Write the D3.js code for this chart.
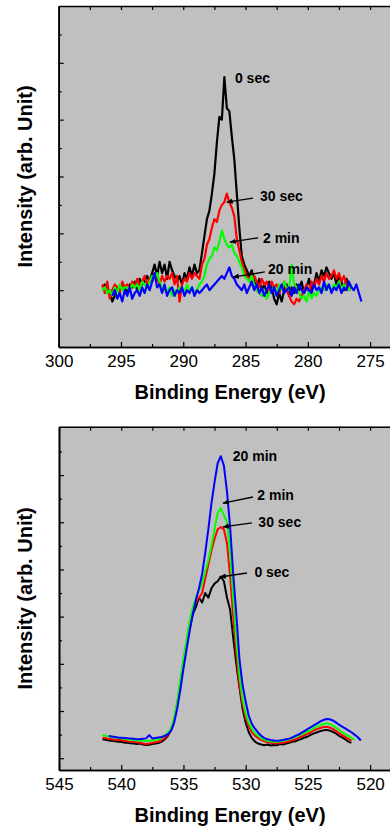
<!DOCTYPE html>
<html>
<head>
<meta charset="utf-8">
<script src="https://cdn.jsdelivr.net/npm/d3@7"></script>
<style>
  body { margin: 0; background: #fff; }
  svg { display: block; font-family: "Liberation Sans", Arial, sans-serif; }
</style>
</head>
<body>
<div id="chart"></div>
<script>
// ---- C 1s panel (top), 0.2 eV sampling ----
const c1sStart = 296.5, c1sBlueStart = 295.7, c1sStep = 0.2;
const c1s0sec = [2.1, 2.2, 1.9, 2.0, 1.6, 1.8, 2.1, 2.0, 2.2, 2.1,
  1.9, 2.2, 2.1, 2.3, 2.0, 2.4, 2.2, 2.3, 2.5, 2.3,
  2.6, 2.9, 2.5, 3.0, 2.6, 2.9, 2.4, 3.0, 2.7, 2.5,
  2.3, 2.5, 2.2, 2.6, 2.4, 2.8, 2.5, 2.9, 2.6,
  2.7, 3.3, 3.9, 4.5, 4.8, 5.4, 6.1, 7.2, 8.1, 8.0, 9.5, 8.4, 8.3, 7.4, 6.6, 5.4, 4.2, 3.2, 2.9, 2.7,
  2.5, 2.7, 2.3, 2.1, 2.4, 2.0, 2.2, 1.9, 2.3, 2.1,
  1.7, 1.5, 1.9, 1.6, 2.0, 2.2, 1.8, 2.1, 1.9, 2.2,
  2.0, 2.3, 1.9, 2.1, 2.4, 2.0, 2.2, 2.6, 2.3, 2.7,
  2.5, 2.8, 2.6, 2.4, 2.6, 2.2, 2.5, 2.3, 2.0, 2.4, 2.2, 2.1];
const c1s30sec = [2.2, 1.9, 2.3, 1.7, 2.0, 2.2, 2.1, 1.9, 2.3, 2.1,
  2.2, 2.0, 2.3, 2.1, 2.4, 2.2, 2.3, 2.5, 2.2, 2.4,
  2.3, 2.6, 2.4, 2.2, 2.5, 2.3, 2.5, 2.4, 2.6, 2.2,
  2.5, 1.6, 2.2, 2.4, 2.3, 2.6, 2.4, 2.6, 2.5,
  2.4, 2.9, 3.1, 3.6, 3.8, 4.2, 4.5, 4.4, 4.8, 5.0, 5.1, 5.4, 5.1, 4.9, 4.6, 3.8, 3.4, 3.0, 2.7, 2.5,
  2.4, 2.2, 2.5, 2.3, 2.1, 2.4, 2.2, 2.3, 2.0, 2.3,
  2.1, 2.2, 1.9, 2.1, 2.3, 2.0, 1.8, 1.6, 1.5, 1.7,
  1.6, 1.8, 2.0, 2.2, 1.9, 2.3, 2.1, 2.4, 2.2, 2.5,
  2.3, 2.6, 2.4, 2.5, 2.7, 2.4, 2.6, 2.3, 2.5, 2.2, 2.0, 2.1];
const c1s2min = [2.0, 2.1, 1.9, 2.0, 1.8, 2.1, 1.9, 2.2, 2.0, 2.1,
  2.1, 2.0, 2.2, 2.1, 2.2, 2.0, 2.3, 2.2, 2.1, 2.3,
  2.5, 2.4, 2.6, 2.3, 2.1, 2.0, 1.9, 2.1, 1.8, 2.0,
  1.9, 2.1, 2.0, 1.9, 2.2, 2.0, 2.1, 1.9, 2.0,
  2.2, 2.3, 2.5, 2.9, 3.1, 3.2, 3.5, 3.4, 3.7, 4.1, 3.8, 3.6, 3.5, 3.6, 3.3, 3.2, 3.0, 2.8, 2.5, 2.4,
  2.3, 2.5, 2.2, 2.0, 1.9, 1.8, 2.0, 1.7, 1.9, 2.0,
  2.1, 1.9, 2.2, 2.0, 2.3, 2.1, 2.0, 2.9, 2.2, 2.1,
  1.9, 1.7, 1.8, 1.6, 2.0, 1.7, 1.9, 1.8, 2.0, 2.1,
  2.0, 2.2, 2.1, 2.0, 2.2, 2.1, 2.3, 2.0, 2.2, 2.1, 2.0, 2.2];
const c1s20min = [1.8, 2.0, 1.7, 1.9, 1.6, 2.0, 1.8, 2.1, 1.7, 1.9,
  2.0, 1.8, 2.1, 1.9, 2.2, 2.0, 2.3, 2.6, 2.1, 2.2,
  1.9, 2.2, 1.8, 2.0, 2.1, 1.8, 2.0, 1.9, 2.1, 1.8,
  2.0, 1.9, 2.1, 1.8, 2.0, 1.9, 2.0, 2.1, 2.2, 2.0,
  2.1, 2.2, 2.3, 2.4, 2.5, 2.4, 2.6, 2.8, 2.5, 2.4,
  2.2, 2.1, 2.0, 2.2, 1.9, 2.1, 2.3, 2.0, 2.2, 1.9,
  2.1, 1.8, 2.0, 2.2, 1.9, 2.1, 1.8, 2.0, 2.2, 1.9,
  2.0, 2.1, 1.8, 2.1, 1.9, 2.2, 2.0, 1.9, 2.1, 2.0,
  1.9, 2.2, 2.0, 2.1, 1.9, 2.3, 2.0, 2.2, 1.9, 2.1,
  2.0, 2.2, 1.9, 2.1, 2.0, 2.3, 2.1, 2.0, 2.2, 1.9, 1.6];

// ---- O 1s panel (bottom), 0.25 eV sampling ----
const o1sStart = 541.5, o1sBlueStart = 541.0, o1sStep = 0.25;
const o1s0sec = [1.3, 1.28, 1.25, 1.24, 1.22, 1.2, 1.2, 1.16, 1.15, 1.13, 1.12, 1.1, 1.12, 1.08, 1.06, 1.07, 1.1, 1.12, 1.14, 1.2, 1.3, 1.45,
  1.7, 2.1, 2.8, 3.6, 4.5, 5.3, 6.0, 6.6, 6.9,
  7.3, 7.1, 7.5, 7.3, 7.7, 7.9, 8.0, 8.2, 8.0, 7.3,
  6.8, 5.6, 4.5, 3.5, 2.6, 2.0, 1.6, 1.35, 1.2, 1.12, 1.08,
  1.05, 1.08, 1.04, 1.06, 1.05, 1.1, 1.08, 1.12, 1.15, 1.2, 1.22, 1.28, 1.32, 1.38, 1.42,
  1.5, 1.55, 1.6, 1.65, 1.68, 1.7, 1.67, 1.62, 1.55, 1.45, 1.38, 1.3, 1.2, 1.15];
const o1s30sec = [1.37, 1.35, 1.32, 1.3, 1.28, 1.27, 1.27, 1.24, 1.22, 1.2, 1.2, 1.18, 1.16, 1.12, 1.1, 1.12, 1.15, 1.18, 1.2, 1.26, 1.36, 1.5,
  1.7, 2.1, 2.8, 3.7, 4.6, 5.4, 6.2, 6.8, 7.1,
  7.3, 7.5, 8.1, 8.7, 9.3, 9.8, 10.2, 10.3, 10.2, 9.6,
  8.2, 6.5, 4.9, 3.6, 2.8, 2.2, 1.85, 1.6, 1.45, 1.35, 1.28,
  1.22, 1.18, 1.15, 1.13, 1.12, 1.14, 1.15, 1.18, 1.22, 1.26, 1.3, 1.36, 1.42, 1.48, 1.54,
  1.6, 1.68, 1.74, 1.78, 1.82, 1.83, 1.8, 1.74, 1.66, 1.56, 1.48, 1.4, 1.32, 1.24];
const o1s2min = [1.48, 1.45, 1.42, 1.4, 1.38, 1.36, 1.34, 1.32, 1.3, 1.28, 1.27, 1.25, 1.26, 1.24, 1.22, 1.24, 1.26, 1.28, 1.3, 1.36, 1.45, 1.58,
  1.75, 2.2, 2.9, 3.8, 4.7, 5.5, 6.3, 6.9, 7.3,
  7.6, 7.9, 8.4, 8.9, 9.5, 10.2, 10.9, 11.1, 10.8, 10.5,
  9.2, 7.3, 5.5, 4.0, 3.0, 2.4, 2.0, 1.75, 1.55, 1.45, 1.35,
  1.28, 1.24, 1.22, 1.2, 1.2, 1.22, 1.24, 1.27, 1.3, 1.35, 1.4, 1.46, 1.52, 1.58, 1.64,
  1.7, 1.78, 1.85, 1.9, 1.95, 1.98, 1.95, 1.88, 1.8, 1.7, 1.6, 1.52, 1.45, 1.36, 1.27];
const o1s20min = [1.44, 1.42, 1.4, 1.38, 1.37, 1.36, 1.35, 1.33, 1.32, 1.3, 1.3, 1.32, 1.34, 1.48, 1.34, 1.36, 1.38, 1.4, 1.45, 1.52,
  1.65, 2.0, 2.6, 3.4, 4.3, 5.1, 5.9, 6.6, 7.2,
  7.7, 8.3, 9.2, 10.2, 11.3, 12.2, 13.0, 13.3, 12.9, 11.8, 10.3, 8.3,
  6.6, 4.7, 3.6, 2.9, 2.3, 1.95, 1.75, 1.58, 1.45, 1.35, 1.3,
  1.27, 1.25, 1.24, 1.25, 1.27, 1.3, 1.33, 1.38, 1.45, 1.5, 1.58, 1.66, 1.74, 1.82, 1.9,
  1.98, 2.06, 2.12, 2.16, 2.15, 2.1, 2.02, 1.92, 1.84, 1.76, 1.68, 1.6, 1.5, 1.4, 1.25];

const seriesColors = ['#000000', '#ff0000', '#00ff00', '#0000ff'];

// axis ticks
const c1sXMajor = [300, 295, 290, 285, 280, 275];
const c1sXMinor = [297.5, 292.5, 287.5, 282.5, 277.5];
const o1sXMajor = [545, 540, 535, 530, 525, 520];
const o1sXMinor = [542.5, 537.5, 532.5, 527.5, 522.5];
const c1sYMajor = [2, 4, 6, 8, 10];
const c1sYMinor = [1, 3, 5, 7, 9, 11];
const o1sYMajor = [0.5, 2.5, 4.5, 6.5, 8.5, 10.5, 12.5];
const o1sYMinor = [1.5, 3.5, 5.5, 7.5, 9.5, 11.5, 13.5];

// label text, [energy, intensity] of text, pointer start, pointer end
const c1sLabels = [
  { text: '0 sec', at: [285.85, 9.29] },
  { text: '30 sec', at: [283.84, 5.14], from: [284.4, 5.24], to: [286.5, 5.10] },
  { text: '2 min', at: [283.6, 3.66], from: [284.0, 3.84], to: [286.25, 3.69] },
  { text: '20 min', at: [283.2, 2.57], from: [283.45, 2.64], to: [286.0, 2.46] }
];
const o1sLabels = [
  { text: '20 min', at: [531.04, 13.09] },
  { text: '2 min', at: [529.06, 11.46], from: [529.41, 11.57], to: [531.82, 11.31] },
  { text: '30 sec', at: [528.98, 10.3], from: [529.49, 10.47], to: [531.82, 10.3] },
  { text: '0 sec', at: [529.3, 8.18], from: [529.89, 8.35], to: [532.06, 8.18] }
];

const xTitle = 'Binding Energy (eV)';
const yTitle = 'Intensity (arb. Unit)';

const svg = d3.select('#chart').append('svg')
  .attr('width', 390)
  .attr('height', 827);

svg.append('defs').append('marker')
  .attr('id', 'arrow')
  .attr('viewBox', '0 0 10 10')
  .attr('refX', 9).attr('refY', 5)
  .attr('markerWidth', 5).attr('markerHeight', 5)
  .attr('orient', 'auto')
  .append('path')
  .attr('d', 'M0,1 L10,5 L0,9 z')
  .attr('fill', '#000');

function drawPanel(p) {
  const x = d3.scaleLinear().domain(p.xDomain).range([p.left, p.right]);
  const y = d3.scaleLinear().domain(p.yDomain).range([p.bottom, p.top]);
  const g = svg.append('g');

  g.append('rect')
    .attr('x', p.left).attr('y', p.top)
    .attr('width', p.right - p.left).attr('height', p.bottom - p.top)
    .attr('fill', '#c0c0c0');

  // spectra
  const line = d3.line().x(d => x(d[0])).y(d => y(d[1]));
  p.series.forEach((s, k) => {
    const pts = s.values.map((v, i) => [s.start - i * p.step, v]);
    g.append('path')
      .datum(pts)
      .attr('d', line)
      .attr('fill', 'none')
      .attr('stroke', seriesColors[k])
      .attr('stroke-width', p.lineWidth)
      .attr('stroke-linejoin', 'round');
  });

  // axes, ticks point inward
  const fmt = d3.format('d');
  const bottomAx = g.append('g').attr('transform', `translate(0,${p.bottom})`)
    .call(d3.axisBottom(x).tickValues(p.xMajor).tickSize(-5).tickSizeOuter(0).tickPadding(8).tickFormat(fmt));
  g.append('g').attr('transform', `translate(0,${p.bottom})`)
    .call(d3.axisBottom(x).tickValues(p.xMinor).tickSize(-3).tickSizeOuter(0).tickFormat(''));
  g.append('g').attr('transform', `translate(0,${p.top})`)
    .call(d3.axisTop(x).tickValues(p.xMajor.concat(p.xMinor)).tickSize(-4).tickSizeOuter(0).tickFormat(''));
  g.append('g').attr('transform', `translate(${p.left},0)`)
    .call(d3.axisLeft(y).tickValues(p.yMajor).tickSize(-5).tickSizeOuter(0).tickFormat(''));
  g.append('g').attr('transform', `translate(${p.left},0)`)
    .call(d3.axisLeft(y).tickValues(p.yMinor).tickSize(-3).tickSizeOuter(0).tickFormat(''));

  g.selectAll('.domain').attr('stroke', '#000').attr('stroke-width', 1.6);
  g.selectAll('.tick line').attr('stroke', '#000').attr('stroke-width', 1.2);
  bottomAx.selectAll('text')
    .attr('font-size', 17)
    .attr('font-family', '"Liberation Sans", Arial, sans-serif')
    .attr('fill', '#000');

  // labels with pointers
  p.labels.forEach(l => {
    if (l.from) {
      g.append('line')
        .attr('x1', x(l.from[0])).attr('y1', y(l.from[1]))
        .attr('x2', x(l.to[0])).attr('y2', y(l.to[1]))
        .attr('stroke', '#000').attr('stroke-width', 1.3)
        .attr('marker-end', 'url(#arrow)');
    }
    g.append('text')
      .attr('x', x(l.at[0])).attr('y', y(l.at[1]))
      .attr('font-size', 14).attr('font-weight', 'bold')
      .text(l.text);
  });

  // titles
  g.append('text')
    .attr('x', 230).attr('y', p.bottom + 52)
    .attr('text-anchor', 'middle')
    .attr('font-size', 20).attr('font-weight', 'bold')
    .text(xTitle);
  g.append('text')
    .attr('transform', `translate(32,${(p.top + p.bottom) / 2}) rotate(-90)`)
    .attr('text-anchor', 'middle')
    .attr('font-size', 20).attr('font-weight', 'bold')
    .text(yTitle);
}

drawPanel({
  left: 58.7, right: 395, top: 6, bottom: 347,
  xDomain: [300, 273], yDomain: [0, 12], step: c1sStep, lineWidth: 2.2,
  xMajor: c1sXMajor, xMinor: c1sXMinor, yMajor: c1sYMajor, yMinor: c1sYMinor,
  series: [
    { start: c1sStart, values: c1s0sec },
    { start: c1sStart, values: c1s30sec },
    { start: c1sStart, values: c1s2min },
    { start: c1sBlueStart, values: c1s20min }
  ],
  labels: c1sLabels
});

drawPanel({
  left: 59, right: 395, top: 426.7, bottom: 770,
  xDomain: [545, 518], yDomain: [0, 14.55], step: o1sStep, lineWidth: 2,
  xMajor: o1sXMajor, xMinor: o1sXMinor, yMajor: o1sYMajor, yMinor: o1sYMinor,
  series: [
    { start: o1sStart, values: o1s0sec },
    { start: o1sStart, values: o1s30sec },
    { start: o1sStart, values: o1s2min },
    { start: o1sBlueStart, values: o1s20min }
  ],
  labels: o1sLabels
});
</script>
</body>
</html>
